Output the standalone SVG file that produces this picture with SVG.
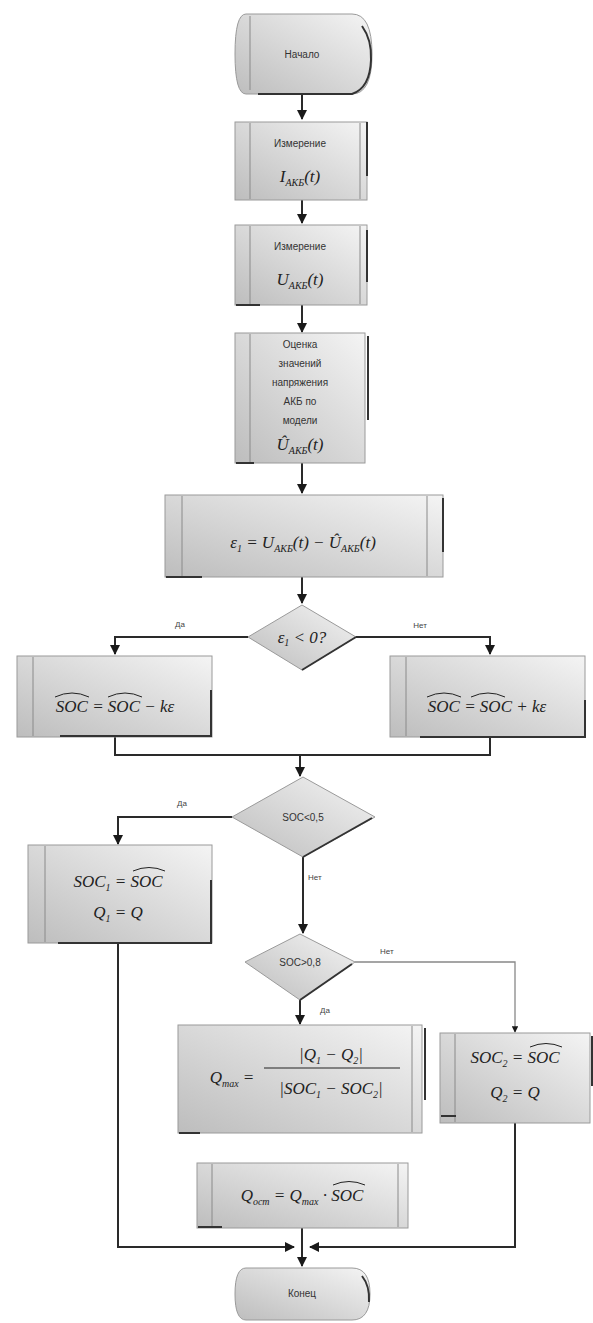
<svg xmlns="http://www.w3.org/2000/svg" width="593" height="1323" viewBox="0 0 593 1323">
<style>
.box{fill:url(#gr);stroke:#9a9a9a;stroke-width:1}
.inner{stroke:#8a8a8a;stroke-width:1;fill:none}
.dark{stroke:#333;stroke-width:2;fill:none}
.con{stroke:#2a2a2a;stroke-width:2;fill:none}
.conl{stroke:#888;stroke-width:1.3;fill:none}
.lbl{font-family:"Liberation Sans",Arial,sans-serif;font-size:10px;fill:#333;text-anchor:middle}
.small{font-family:"Liberation Sans",Arial,sans-serif;font-size:8px;fill:#444}
.f{font-family:"Liberation Serif","Times New Roman",serif;font-style:italic;font-size:17px;fill:#222;text-anchor:middle}
.sub{font-size:10px}
.hat{stroke:#222;stroke-width:1;fill:none}
</style>
<defs>
<linearGradient id="gr" x1="1" y1="0" x2="0" y2="1">
<stop offset="0" stop-color="#f4f4f4"/>
<stop offset="1" stop-color="#bdbdbd"/>
</linearGradient>
<marker id="ar" viewBox="0 0 10 10" refX="9" refY="5" markerWidth="5" markerHeight="5" orient="auto">
<path d="M0,0 L10,5 L0,10 Z" fill="#1a1a1a"/>
</marker>
</defs>

<g id="connectors">
<path class="con" d="M302,95 V119" marker-end="url(#ar)"/>
<path class="con" d="M302,200 V223" marker-end="url(#ar)"/>
<path class="con" d="M302,305 V332" marker-end="url(#ar)"/>
<path class="con" d="M302,463 V493" marker-end="url(#ar)"/>
<path class="con" d="M302,577 V603" marker-end="url(#ar)"/>
<path class="con" d="M248,637 H115 V654" marker-end="url(#ar)"/>
<path class="con" d="M356,637 H490 V654" marker-end="url(#ar)"/>
<path class="con" d="M115,737 V755 H490 V737"/>
<path class="con" d="M300,755 V776" marker-end="url(#ar)"/>
<path class="con" d="M232,817 H118 V844" marker-end="url(#ar)"/>
<path class="con" d="M303,857 V933" marker-end="url(#ar)"/>
<path class="con" d="M118,943 V1247 H294" marker-end="url(#ar)"/>
<path class="conl" d="M355,962 H515 V1032" marker-end="url(#ar)"/>
<path class="con" d="M300,1000 V1024" marker-end="url(#ar)"/>
<path class="con" d="M515,1123 V1247 H310" marker-end="url(#ar)"/>
<path class="con" d="M302,1228 V1266" marker-end="url(#ar)"/>
<text class="small" x="180" y="627" text-anchor="middle">Да</text>
<text class="small" x="420" y="628" text-anchor="middle">Нет</text>
<text class="small" x="182" y="806" text-anchor="middle">Да</text>
<text class="small" x="308" y="880">Нет</text>
<text class="small" x="380" y="954">Нет</text>
<text class="small" x="320" y="1013">Да</text>
</g>

<g id="start">
<path class="box" d="M246,14 H352 Q372,14 372,54 Q372,94 352,94 H246 Q235,94 235,54 Q235,14 246,14 Z"/>
<path class="inner" d="M250,16 V90"/>
<path class="dark" d="M362,26 Q372,40 371,60 Q370,88 352,94 H258"/>
<text class="lbl" x="302" y="58" font-size="9">Начало</text>
</g>

<g id="meas-i">
<rect class="box" x="235" y="122" width="132" height="78"/>
<path class="inner" d="M250,123 V199 M360,123 V199"/>
<path class="dark" d="M367,122 V176"/>
<text class="lbl" x="300" y="147">Измерение</text>
<text class="f" x="300" y="182">I<tspan class="sub" dy="4">АКБ</tspan><tspan dy="-4">(t)</tspan></text>
</g>

<g id="meas-u">
<rect class="box" x="235" y="225" width="132" height="80"/>
<path class="inner" d="M250,226 V304 M360,226 V304"/>
<path class="dark" d="M367,230 V282 M236,305 H260"/>
<text class="lbl" x="300" y="250">Измерение</text>
<text class="f" x="300" y="285">U<tspan class="sub" dy="4">АКБ</tspan><tspan dy="-4">(t)</tspan></text>
</g>

<g id="estimate">
<rect class="box" x="235" y="333" width="130" height="130"/>
<path class="inner" d="M250,334 V462"/>
<path class="dark" d="M368,336 V420 M236,463 H254"/>
<text class="lbl" x="300" y="348">Оценка</text>
<text class="lbl" x="300" y="367">значений</text>
<text class="lbl" x="300" y="386">напряжения</text>
<text class="lbl" x="300" y="405">АКБ по</text>
<text class="lbl" x="300" y="424">модели</text>
<text class="f" x="300" y="450">Û<tspan class="sub" dy="4">АКБ</tspan><tspan dy="-4">(t)</tspan></text>
</g>

<g id="error">
<rect class="box" x="165" y="495" width="278" height="82"/>
<path class="inner" d="M182,496 V576 M427,496 V576"/>
<path class="dark" d="M443,498 V552 M166,577 H202"/>
<text class="f" x="303" y="548">ε<tspan class="sub" dy="4">1</tspan><tspan dy="-4"> = U</tspan><tspan class="sub" dy="4">АКБ</tspan><tspan dy="-4">(t) − Û</tspan><tspan class="sub" dy="4">АКБ</tspan><tspan dy="-4">(t)</tspan></text>
</g>

<g id="dec1">
<path class="box" d="M302,605 L356,637 L302,670 L248,637 Z"/>
<path class="dark" d="M302,670 L356,637"/>
<text class="f" x="302" y="643" font-size="14">ε<tspan class="sub" dy="3">1</tspan><tspan dy="-3"> &lt; 0?</tspan></text>
</g>

<g id="soc-minus">
<rect class="box" x="17" y="656" width="195" height="81"/>
<path class="inner" d="M33,657 V736"/>
<path class="dark" d="M211,690 V736 H60"/>
<text class="f" x="115" y="712">SOC = SOC − kε</text>
<path class="hat" d="M55,697 Q72,689 89,697 M108,697 Q125,689 142,697"/>
</g>

<g id="soc-plus">
<rect class="box" x="390" y="656" width="195" height="81"/>
<path class="inner" d="M406,657 V736"/>
<path class="dark" d="M585,700 V737 H420"/>
<text class="f" x="487" y="712">SOC = SOC + kε</text>
<path class="hat" d="M427,697 Q444,689 461,697 M471,697 Q488,689 505,697"/>
</g>

<g id="dec2">
<path class="box" d="M303,777 L375,817 L303,857 L232,817 Z"/>
<path class="dark" d="M303,857 L372,818"/>
<text class="lbl" x="303" y="821" font-size="9">SOC&lt;0,5</text>
</g>

<g id="store1">
<rect class="box" x="28" y="845" width="184" height="98"/>
<path class="inner" d="M45,846 V942"/>
<path class="dark" d="M211,880 V943 H58"/>
<text class="f" x="118" y="887">SOC<tspan class="sub" dy="4">1</tspan><tspan dy="-4"> = SOC</tspan></text>
<path class="hat" d="M133,871 Q149,864 165,871"/>
<text class="f" x="118" y="918">Q<tspan class="sub" dy="4">1</tspan><tspan dy="-4"> = Q</tspan></text>
</g>

<g id="dec3">
<path class="box" d="M300,934 L355,962 L300,1000 L245,962 Z"/>
<path class="dark" d="M300,1000 L352,964"/>
<text class="lbl" x="300" y="966" font-size="9">SOC&gt;0,8</text>
</g>

<g id="qmax">
<rect class="box" x="178" y="1025" width="244" height="108"/>
<path class="inner" d="M412,1026 V1132"/>
<path class="dark" d="M425,1028 V1100 M179,1133 H200"/>
<text class="f" x="232" y="1083">Q<tspan class="sub" dy="4">max</tspan><tspan dy="-4"> =</tspan></text>
<text class="f" x="331" y="1060">|Q<tspan class="sub" dy="4">1</tspan><tspan dy="-4"> − Q</tspan><tspan class="sub" dy="4">2</tspan><tspan dy="-4">|</tspan></text>
<path class="hat" d="M264,1068 H400" stroke-width="1.2"/>
<text class="f" x="331" y="1094">|SOC<tspan class="sub" dy="4">1</tspan><tspan dy="-4"> − SOC</tspan><tspan class="sub" dy="4">2</tspan><tspan dy="-4">|</tspan></text>
</g>

<g id="store2">
<rect class="box" x="440" y="1033" width="150" height="90"/>
<path class="inner" d="M455,1034 V1122"/>
<path class="dark" d="M592,1036 V1086 M441,1116 H456"/>
<text class="f" x="515" y="1063">SOC<tspan class="sub" dy="4">2</tspan><tspan dy="-4"> = SOC</tspan></text>
<path class="hat" d="M530,1047 Q546,1040 562,1047"/>
<text class="f" x="515" y="1098">Q<tspan class="sub" dy="4">2</tspan><tspan dy="-4"> = Q</tspan></text>
</g>

<g id="qres">
<rect class="box" x="197" y="1163" width="211" height="65"/>
<path class="inner" d="M212,1164 V1227 M398,1164 V1227"/>
<path class="dark" d="M198,1227 H222"/>
<text class="f" x="302" y="1201">Q<tspan class="sub" dy="4">ост</tspan><tspan dy="-4"> = Q</tspan><tspan class="sub" dy="4">max</tspan><tspan dy="-4"> · SOC</tspan></text>
<path class="hat" d="M333,1185 Q349,1178 365,1185"/>
</g>

<g id="end">
<path class="box" d="M246,1268 H352 Q370,1268 370,1294 Q370,1320 352,1320 H246 Q235,1320 235,1294 Q235,1268 246,1268 Z"/>
<path class="dark" d="M362,1276 Q370,1286 369,1302"/>
<text class="lbl" x="302" y="1297" font-size="9">Конец</text>
</g>
</svg>
